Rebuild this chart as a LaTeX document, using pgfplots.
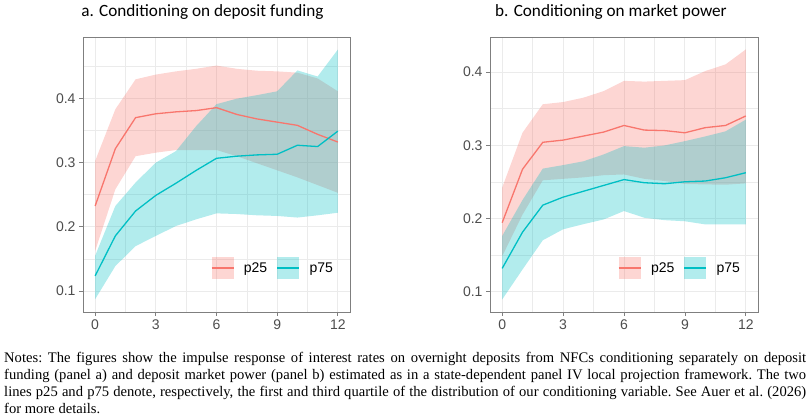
\documentclass[border=0pt]{standalone}
\usepackage{fontspec}
\setmainfont{Liberation Sans}
\newfontfamily\titlefont{Carlito}
\newfontfamily\notefont{Liberation Serif}
\usepackage{pgfplots}
\pgfplotsset{compat=1.18}
\usepackage{pgfplotstable}
\usepgfplotslibrary{fillbetween}
\definecolor{cred}{HTML}{F8766D}
\definecolor{ccyan}{HTML}{00BFC4}
\definecolor{gridc}{HTML}{EBEBEB}
\definecolor{tickc}{HTML}{4D4D4D}
\definecolor{framec}{HTML}{7F7F7F}

% panel a: deposit funding
\pgfplotstableread{
x lo mid hi
0 0.1625 0.2325 0.3025
1 0.2585 0.3217 0.3830
2 0.3100 0.3700 0.4296
3 0.3155 0.3760 0.4370
4 0.3196 0.3790 0.4420
5 0.3196 0.3810 0.4460
6 0.3196 0.3855 0.4510
7 0.3100 0.3750 0.4460
8 0.2990 0.3680 0.4430
9 0.2880 0.3630 0.4420
10 0.2770 0.3580 0.4400
11 0.2650 0.3440 0.4310
12 0.2530 0.3320 0.4110
}\aRed
\pgfplotstableread{
x lo mid hi
0 0.0874 0.1237 0.1550
1 0.1390 0.1860 0.2325
2 0.1700 0.2247 0.2690
3 0.1860 0.2490 0.3000
4 0.2014 0.2680 0.3180
5 0.2118 0.2880 0.3570
6 0.2210 0.3067 0.3910
7 0.2200 0.3100 0.3995
8 0.2180 0.3120 0.4050
9 0.2170 0.3130 0.4110
10 0.2145 0.3270 0.4435
11 0.2180 0.3250 0.4340
12 0.2220 0.3490 0.4760
}\aCyan
% panel b: market power
\pgfplotstableread{
x lo mid hi
0 0.1480 0.1940 0.2420
1 0.2050 0.2670 0.3170
2 0.2520 0.3040 0.3560
3 0.2540 0.3070 0.3590
4 0.2560 0.3125 0.3650
5 0.2590 0.3180 0.3740
6 0.2600 0.3270 0.3880
7 0.2540 0.3207 0.3870
8 0.2510 0.3200 0.3880
9 0.2470 0.3170 0.3890
10 0.2464 0.3240 0.4014
11 0.2460 0.3270 0.4105
12 0.2478 0.3400 0.4310
}\bRed
\pgfplotstableread{
x lo mid hi
0 0.0890 0.1315 0.1760
1 0.1300 0.1810 0.2250
2 0.1700 0.2180 0.2680
3 0.1850 0.2290 0.2728
4 0.1920 0.2370 0.2780
5 0.1985 0.2450 0.2874
6 0.2100 0.2530 0.2988
7 0.2008 0.2487 0.2966
8 0.1975 0.2473 0.2997
9 0.1960 0.2500 0.3056
10 0.1917 0.2510 0.3120
11 0.1917 0.2555 0.3190
12 0.1917 0.2624 0.3350
}\bCyan

\pgfplotsset{
  panel/.style={
    scale only axis, height=275pt, anchor=south west,
    xmin=-0.6, xmax=12.6,
    xtick={0,3,6,9,12}, minor xtick={1.5,4.5,7.5,10.5},
    ytick={0.1,0.2,0.3,0.4}, minor ytick={0.15,0.25,0.35,0.45},
    grid=both,
    major grid style={draw=gridc, line width=0.9pt},
    minor grid style={draw=gridc, line width=0.5pt},
    axis line style={draw=framec, line width=0.8pt},
    tick align=outside, tick pos=left,
    major tick length=4pt, minor tick length=0pt,
    major tick style={draw=framec, line width=0.8pt},
    /pgf/number format/assume math mode=true,
    ticklabel style={font=\fontsize{14}{14}\selectfont, text=tickc},
    yticklabel style={/pgf/number format/fixed, /pgf/number format/precision=1, /pgf/number format/fixed zerofill},
    legend columns=2, legend cell align=left,
    legend style={anchor=west, draw=none, fill=none, inner sep=0pt, outer sep=0pt,
      font=\fontsize{14}{14}\selectfont, nodes={inner sep=0pt},
      /tikz/every odd column/.append style={column sep=9.7pt},
      /tikz/every even column/.append style={column sep=9.3pt}},
  },
  redkey/.style={legend image code/.code={%
    \path[draw=none, fill=cred, fill opacity=0.3] (0pt,-11.3pt) rectangle (22pt,11.3pt);
    \draw[cred, line width=1.3pt] (0pt,0pt) -- (22pt,0pt);}},
  cyankey/.style={legend image code/.code={%
    \path[draw=none, fill=ccyan, fill opacity=0.3] (0pt,-11.3pt) rectangle (22pt,11.3pt);
    \draw[ccyan, line width=1.3pt] (0pt,0pt) -- (22pt,0pt);}},
}

\begin{document}
\begin{tikzpicture}
% ---------- panel a ----------
\begin{axis}[panel, at={(83pt,108pt)}, width=267pt, ymin=0.0675, ymax=0.4955,
  legend style={at={(0.479,0.16)}}]
  \addlegendimage{redkey}\addlegendentry{p25}
  \addlegendimage{cyankey}\addlegendentry{p75}
  \addplot[cred, line width=1.3pt, forget plot] table[x=x, y=mid] {\aRed};
  \addplot[ccyan, line width=1.3pt, forget plot] table[x=x, y=mid] {\aCyan};
  \addplot[draw=none, name path=arh, forget plot] table[x=x, y=hi] {\aRed};
  \addplot[draw=none, name path=arl, forget plot] table[x=x, y=lo] {\aRed};
  \addplot[draw=none, name path=ach, forget plot] table[x=x, y=hi] {\aCyan};
  \addplot[draw=none, name path=acl, forget plot] table[x=x, y=lo] {\aCyan};
  \addplot[fill=cred, fill opacity=0.3, draw=none, forget plot] fill between[of=arh and arl];
  \addplot[fill=ccyan, fill opacity=0.3, draw=none, forget plot] fill between[of=ach and acl];
\end{axis}
% ---------- panel b ----------
\begin{axis}[panel, at={(490pt,108pt)}, width=268pt, ymin=0.0719, ymax=0.448,
  legend style={at={(0.4776,0.16)}}]
  \addlegendimage{redkey}\addlegendentry{p25}
  \addlegendimage{cyankey}\addlegendentry{p75}
  \addplot[cred, line width=1.3pt, forget plot] table[x=x, y=mid] {\bRed};
  \addplot[ccyan, line width=1.3pt, forget plot] table[x=x, y=mid] {\bCyan};
  \addplot[draw=none, name path=brh, forget plot] table[x=x, y=hi] {\bRed};
  \addplot[draw=none, name path=brl, forget plot] table[x=x, y=lo] {\bRed};
  \addplot[draw=none, name path=bch, forget plot] table[x=x, y=hi] {\bCyan};
  \addplot[draw=none, name path=bcl, forget plot] table[x=x, y=lo] {\bCyan};
  \addplot[fill=cred, fill opacity=0.3, draw=none, forget plot] fill between[of=brh and brl];
  \addplot[fill=ccyan, fill opacity=0.3, draw=none, forget plot] fill between[of=bch and bcl];
\end{axis}
% ---------- titles ----------
\node[font=\titlefont\fontsize{17.2}{17.2}\selectfont, anchor=base, inner sep=0pt] at (202.5pt,403.3pt) {a. Conditioning on deposit funding};
\node[font=\titlefont\fontsize{17.2}{17.2}\selectfont, anchor=base, inner sep=0pt] at (611pt,403.3pt) {b. Conditioning on market power};
% ---------- notes ----------
\node[anchor=base west, inner sep=0pt] at (4pt,57pt) {\parbox[t]{802pt}{\notefont\fontsize{14.6}{17}\selectfont\frenchspacing
Notes: The figures show the impulse response of interest rates on overnight deposits from NFCs conditioning separately on deposit\linebreak
funding (panel a) and deposit market power (panel b) estimated as in a state-dependent panel IV local projection framework. The two\linebreak
lines p25 and p75 denote, respectively, the first and third quartile of the distribution of our conditioning variable. See Auer et al. (2026)\linebreak
for more details.}};
\pgfresetboundingbox
\path[use as bounding box] (0pt,0pt) rectangle (812pt,420pt);
\end{tikzpicture}
\end{document}
